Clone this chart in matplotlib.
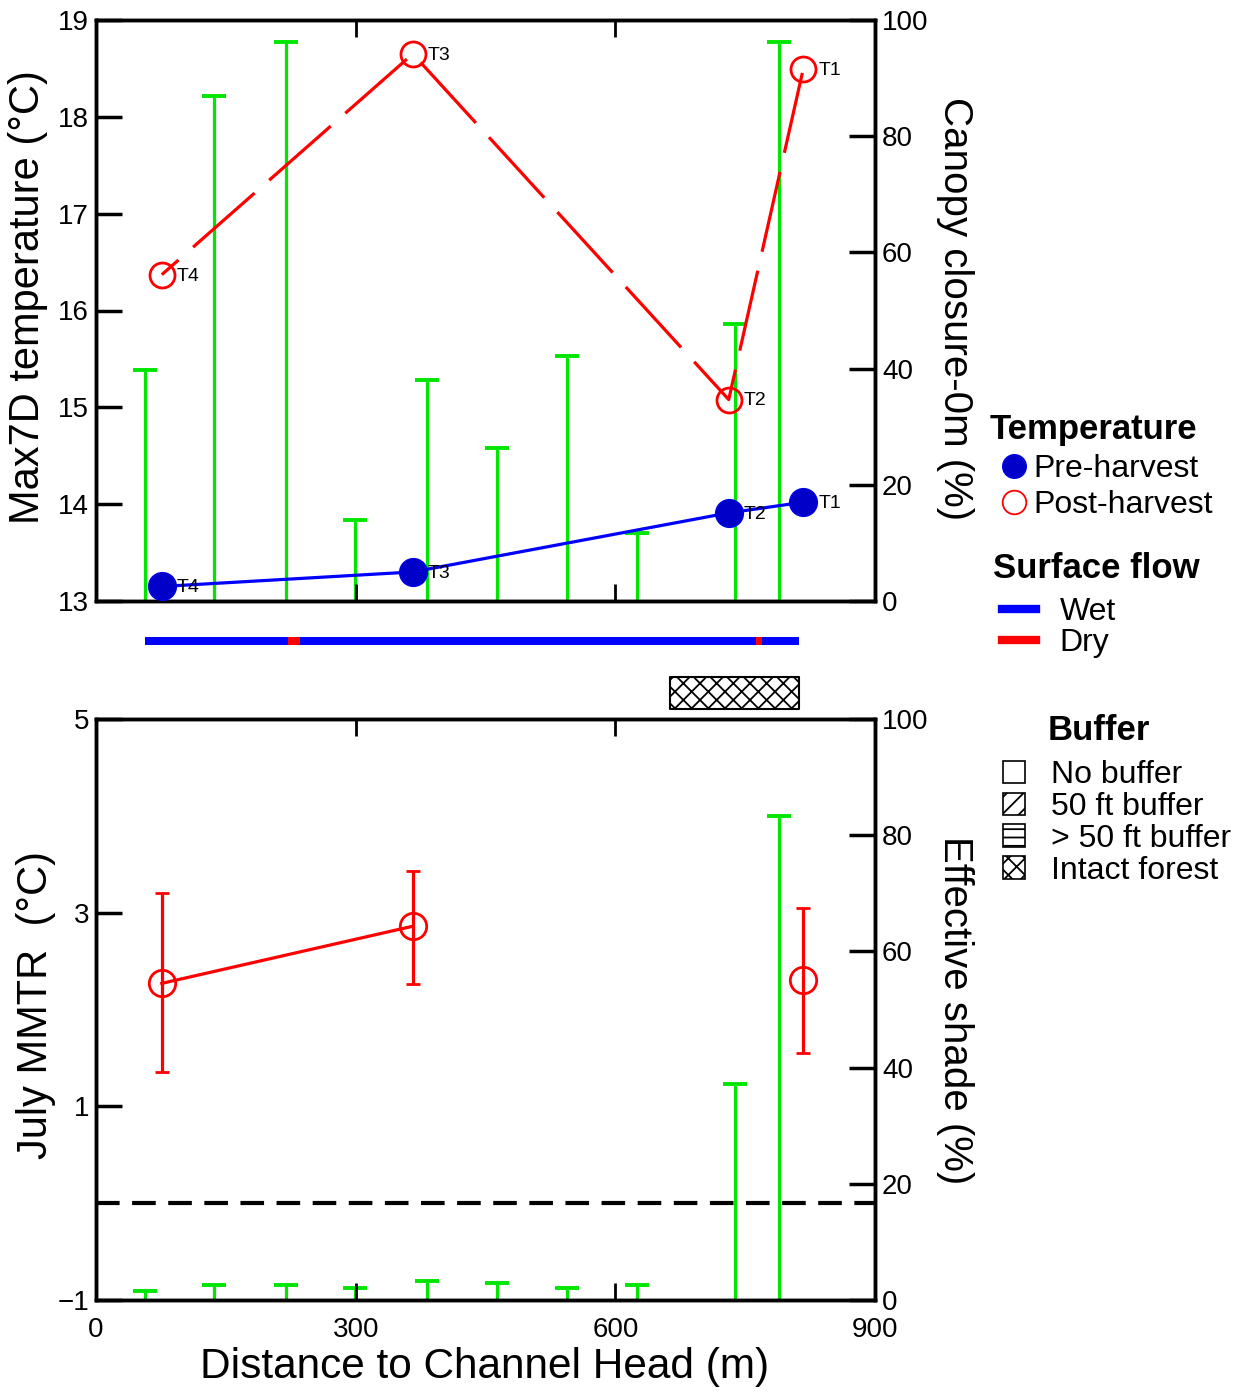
import matplotlib
matplotlib.use("Agg")
import numpy as np
import matplotlib.pyplot as plt
from matplotlib.lines import Line2D
from matplotlib.patches import Patch

plt.rcParams['font.family'] = ['Liberation Sans', 'DejaVu Sans']
plt.rcParams['lines.scale_dashes'] = False
plt.rcParams['hatch.linewidth'] = 1.3

# canopy / shade sample points along the channel (m)
shade_x = [57, 136, 219, 299, 382, 463, 544, 625, 738, 789]
canopy = [39.8, 87.0, 96.2, 13.9, 38.0, 26.3, 42.2, 11.7, 47.7, 96.2]
eff_shade = [1.6, 2.5, 2.5, 2.1, 3.3, 2.9, 2.1, 2.5, 37.2, 83.3]

# temperature sites
site_x = [76, 366, 731, 817]
site_lab = ['T4', 'T3', 'T2', 'T1']
pre_temp = [13.15, 13.30, 13.91, 14.02]
post_temp = [16.37, 18.65, 15.08, 18.49]

# July MMTR (T2 has no value)
mmtr = [2.27, 2.86, np.nan, 2.30]
mmtr_lo = [1.35, 2.26, np.nan, 1.55]
mmtr_hi = [3.20, 3.43, np.nan, 3.05]

# surface flow along the channel
flow_edges = [57, 222, 236, 762, 769, 812]
flow_state = ['Wet', 'Dry', 'Wet', 'Dry', 'Wet']
# buffer type
buffer_start = 663
buffer_end = 812

green = '#00e600'
W, H = 1255, 1392
fig = plt.figure(figsize=(W / 100, H / 100), dpi=100)


def style(ax, axr):
    ax.set_zorder(axr.get_zorder() + 1)
    ax.patch.set_visible(False)
    for a in (ax, axr):
        for s in a.spines.values():
            s.set_linewidth(2.5)
    ax.set_xlim(0, 900)
    ax.set_xticks([0, 300, 600, 900])
    ax.tick_params(axis='x', direction='in', top=True, length=12, width=2,
                   labelsize=20, pad=12)
    ax.tick_params(axis='y', direction='in', length=19, width=2.5,
                   labelsize=20, pad=5)
    axr.set_ylim(0, 100)
    axr.set_yticks(range(0, 101, 20))
    axr.tick_params(axis='y', direction='in', length=19, width=2.5,
                    labelsize=20, pad=5)


# ---- top panel
ax1 = fig.add_axes([96 / W, 1 - 601 / H, 779 / W, 581 / H])
ax1r = ax1.twinx()
style(ax1, ax1r)
ax1.set_ylim(13, 19)
ax1.set_yticks(range(13, 20))
ax1.tick_params(axis='x', labelbottom=False)

ax1r.vlines(shade_x, 0, canopy, color=green, lw=2.3)
ax1r.plot(shade_x, canopy, ls='none', marker='_', ms=17, mew=2.8, color=green)

ax1.plot(site_x, post_temp, color='#ff0000', lw=2.3, ls=(-30, (59, 14)),
         marker='o', ms=18, mfc='none', mec='#ff0000', mew=2, zorder=3)
ax1.plot(site_x, pre_temp, color='#0000ff', lw=2.3, marker='o', ms=20,
         mfc='#0000c8', mec='#0000e8', zorder=4)
for x, y1, y2, lab in zip(site_x, pre_temp, post_temp, site_lab):
    ax1.annotate(lab, (x, y1), xytext=(11, -1), textcoords='offset points',
                 fontsize=14, ha='left', va='center', zorder=5)
    ax1.annotate(lab, (x, y2), xytext=(11, -1), textcoords='offset points',
                 fontsize=14, ha='left', va='center', zorder=5)

# ---- middle strip: surface flow and buffer
axm = fig.add_axes([96 / W, 1 - 715 / H, 779 / W, 105 / H])
axm.set_xlim(0, 900)
axm.set_ylim(0, 1)
axm.axis('off')
flow_col = {'Wet': '#0000ff', 'Dry': '#ff0000'}
for i, st in enumerate(flow_state):
    axm.broken_barh([(flow_edges[i], flow_edges[i + 1] - flow_edges[i])],
                    (0.667, 0.076), facecolors=flow_col[st])
axm.broken_barh([(buffer_start, buffer_end - buffer_start)], (0.057, 0.305),
                facecolors='white', edgecolors='black', hatch='xx', lw=1.5)

# ---- bottom panel
ax2 = fig.add_axes([96 / W, 1 - 1300 / H, 779 / W, 581 / H])
ax2r = ax2.twinx()
style(ax2, ax2r)
ax2.set_ylim(-1, 5)
ax2.set_yticks([-1, 1, 3, 5])

ax2r.vlines(shade_x, 0, eff_shade, color=green, lw=2.3)
ax2r.plot(shade_x, eff_shade, ls='none', marker='_', ms=17, mew=2.8, color=green)

ax2.axhline(0, color='black', lw=3, ls=(0, (17, 9)), zorder=2)
m = np.array(mmtr)
yerr = [m - np.array(mmtr_lo), np.array(mmtr_hi) - m]
ax2.errorbar(site_x, mmtr, yerr=yerr, color='#ff0000', lw=2.3, marker='o',
             ms=19, mfc='none', mec='#ff0000', mew=2, elinewidth=2.3,
             capsize=5, capthick=3, zorder=3)

# ---- axis titles
fig.text(28 / W, 1 - 297 / H, 'Max7D temperature (°C)', rotation=90,
         ha='center', va='center', fontsize=30)
fig.text(955 / W, 1 - 309 / H, 'Canopy closure-0m (%)', rotation=270,
         ha='center', va='center', fontsize=29)
fig.text(36 / W, 1 - 1005 / H, 'July MMTR  (°C)', rotation=90,
         ha='center', va='center', fontsize=30)
fig.text(955 / W, 1 - 1010 / H, 'Effective shade (%)', rotation=270,
         ha='center', va='center', fontsize=29)
fig.text(485 / W, 1 - 1367 / H, 'Distance to Channel Head (m)',
         ha='center', va='center', fontsize=30.5)

# ---- legends
fig.text(990 / W, 1 - 430 / H, 'Temperature', fontsize=25, weight='bold',
         ha='left', va='center')
temp_h = [Line2D([], [], ls='none', marker='o', ms=17, mfc='#0000c8', mec='#0000e8'),
          Line2D([], [], ls='none', marker='o', ms=17, mfc='none', mec='#ff0000', mew=1.3)]
fig.legend(temp_h, ['Pre-harvest', 'Post-harvest'], loc='upper left',
           bbox_to_anchor=(998 / W, 1 - 454 / H), frameon=False, borderpad=0,
           borderaxespad=0, fontsize=23, handlelength=1.0, handletextpad=0.1,
           labelspacing=0.2)

fig.text(993 / W, 1 - 569 / H, 'Surface flow', fontsize=25, weight='bold',
         ha='left', va='center')
flow_h = [Line2D([], [], color=flow_col[k], lw=6) for k in ['Wet', 'Dry']]
fig.legend(flow_h, ['Wet', 'Dry'], loc='upper left',
           bbox_to_anchor=(1002 / W, 1 - 597 / H), frameon=False, borderpad=0,
           borderaxespad=0, fontsize=23, handlelength=1.05, handletextpad=0.75,
           labelspacing=0.04)

fig.text(1048 / W, 1 - 730 / H, 'Buffer', fontsize=25, weight='bold',
         ha='left', va='center')
buf_h = [Patch(facecolor='white', edgecolor='black', hatch=h, lw=1.2)
         for h in ['', '//', '--', 'xx']]
fig.legend(buf_h, ['No buffer', '50 ft buffer', '> 50 ft buffer', 'Intact forest'],
           loc='upper left', bbox_to_anchor=(1003 / W, 1 - 760 / H),
           frameon=False, borderpad=0, borderaxespad=0, fontsize=23,
           handlelength=0.7, handleheight=0.7, handletextpad=0.8,
           labelspacing=0.06)

fig.savefig('out.png', dpi=100)
